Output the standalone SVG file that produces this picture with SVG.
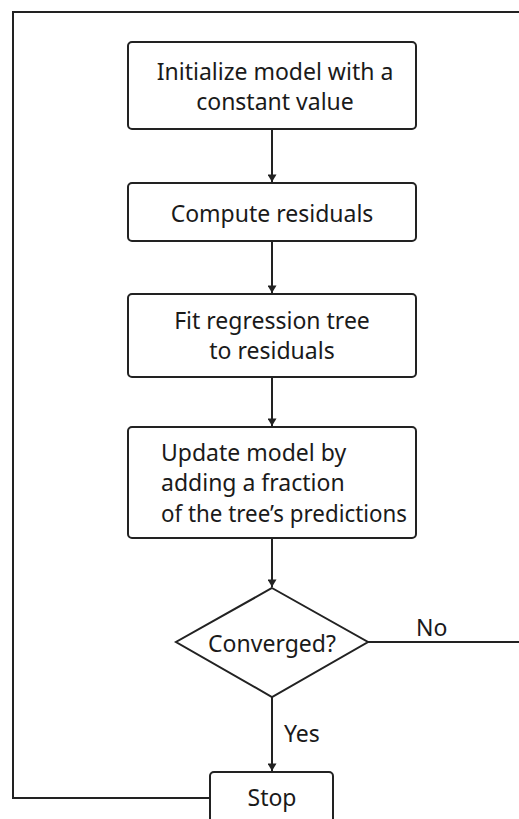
<svg xmlns="http://www.w3.org/2000/svg" width="519" height="819" viewBox="0 0 519 819">
<defs>
<marker id="ah" viewBox="0 0 10 12" refX="10" refY="6" markerWidth="11" markerHeight="9" markerUnits="userSpaceOnUse" orient="auto">
<path d="M0,0 L10,6 L0,12 z" fill="#222"/>
</marker>
</defs>
<style>
.box{fill:#fff;stroke:#222;stroke-width:2}
.ln{fill:none;stroke:#222;stroke-width:2}
.t{font-family:"Noto Sans","DejaVu Sans",sans-serif;font-size:23px;fill:#1a1a1a}
.c{text-anchor:middle}
</style>
<rect width="519" height="819" fill="#fff"/>
<g id="connectors">
<polyline class="ln" points="519,12 13,12 13,798 210,798"/>
<line class="ln" x1="272" y1="129" x2="272" y2="182" marker-end="url(#ah)"/>
<line class="ln" x1="272" y1="241" x2="272" y2="293" marker-end="url(#ah)"/>
<line class="ln" x1="272" y1="377" x2="272" y2="426" marker-end="url(#ah)"/>
<line class="ln" x1="272" y1="538" x2="272" y2="587" marker-end="url(#ah)"/>
<line class="ln" x1="368" y1="642" x2="519" y2="642"/>
<line class="ln" x1="272" y1="697" x2="272" y2="771" marker-end="url(#ah)"/>
<text class="t" x="416" y="636">No</text>
<text class="t" x="284" y="742">Yes</text>
</g>
<g id="n1">
<rect class="box" x="128" y="42" width="288" height="87" rx="4"/>
<text class="t c" x="275" y="80">Initialize model with a</text>
<text class="t c" x="275" y="110">constant value</text>
</g>
<g id="n2">
<rect class="box" x="128" y="183" width="288" height="58" rx="4"/>
<text class="t c" x="272" y="222">Compute residuals</text>
</g>
<g id="n3">
<rect class="box" x="128" y="294" width="288" height="83" rx="4"/>
<text class="t c" x="272" y="329">Fit regression tree</text>
<text class="t c" x="272" y="359">to residuals</text>
</g>
<g id="n4">
<rect class="box" x="128" y="427" width="288" height="111" rx="4"/>
<text class="t" x="161" y="461">Update model by</text>
<text class="t" x="161" y="491">adding a fraction</text>
<text class="t" x="161" y="522" textLength="246" lengthAdjust="spacingAndGlyphs">of the tree’s predictions</text>
</g>
<g id="n5">
<polygon class="box" points="272,588 368,642 272,697 176,642"/>
<text class="t c" x="272" y="652">Converged?</text>
</g>
<g id="n6">
<rect class="box" x="210" y="772" width="123" height="60" rx="4"/>
<text class="t c" x="272" y="806">Stop</text>
</g>
</svg>
